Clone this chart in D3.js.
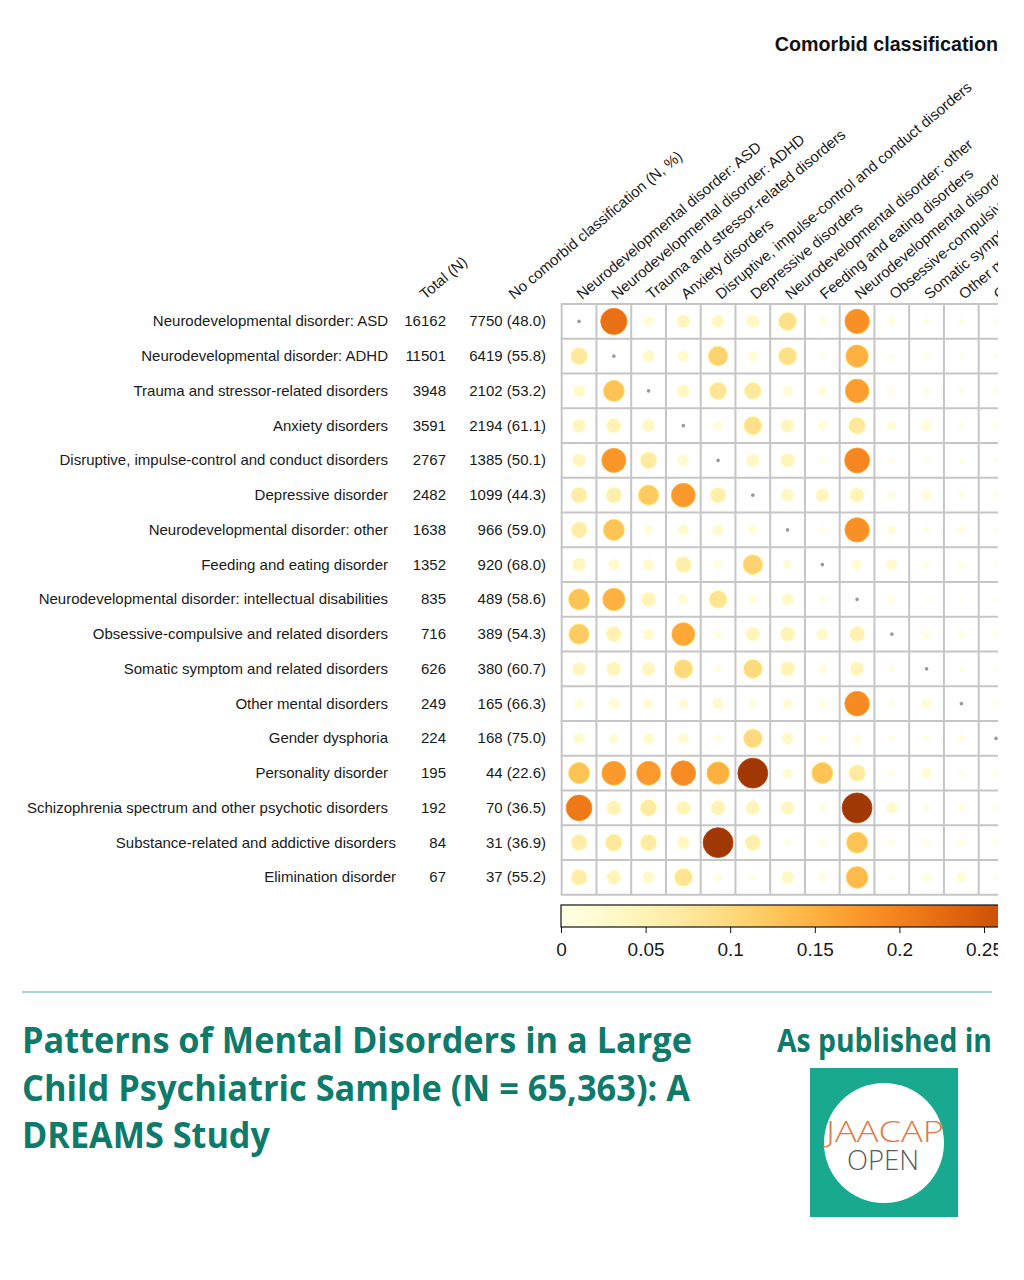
<!DOCTYPE html>
<html>
<head>
<script src="https://d3js.org/d3.v7.min.js"></script>
<style>
    html, body { margin: 0; padding: 0; background: #fff; }
    svg { display: block; }
</style>
</head>
<body>
<div id="chart"></div>
<script>
// diagnosis rows
var rows = [
    "Neurodevelopmental disorder: ASD",
    "Neurodevelopmental disorder: ADHD",
    "Trauma and stressor-related disorders",
    "Anxiety disorders",
    "Disruptive, impulse-control and conduct disorders",
    "Depressive disorder",
    "Neurodevelopmental disorder: other",
    "Feeding and eating disorder",
    "Neurodevelopmental disorder: intellectual disabilities",
    "Obsessive-compulsive and related disorders",
    "Somatic symptom and related disorders",
    "Other mental disorders",
    "Gender dysphoria",
    "Personality disorder",
    "Schizophrenia spectrum and other psychotic disorders",
    "Substance-related and addictive disorders",
    "Elimination disorder"
];
var totals = [16162, 11501, 3948, 3591, 2767, 2482, 1638, 1352, 835, 716, 626, 249, 224, 195, 192, 84, 67];
var noComorbidN = [7750, 6419, 2102, 2194, 1385, 1099, 966, 920, 489, 389, 380, 165, 168, 44, 70, 31, 37];
var noComorbidPct = [48.0, 55.8, 53.2, 61.1, 50.1, 44.3, 59.0, 68.0, 58.6, 54.3, 60.7, 66.3, 75.0, 22.6, 36.5, 36.9, 55.2];

// comorbid columns (only the ones visible in the cropped figure)
var comorbidCols = [
    "Neurodevelopmental disorder: ASD",
    "Neurodevelopmental disorder: ADHD",
    "Trauma and stressor-related disorders",
    "Anxiety disorders",
    "Disruptive, impulse-control and conduct disorders",
    "Depressive disorders",
    "Neurodevelopmental disorder: other",
    "Feeding and eating disorders",
    "Neurodevelopmental disorder: intellectual disabilities",
    "Obsessive-compulsive and related disorders",
    "Somatic symptom and related disorders",
    "Other mental disorders",
    "Gender dysphoria"
];

// proportion with comorbid classification, null = same diagnosis
var values = [
    [null, .22, .02, .04, .035, .035, .09, .01, .185, .01, .005, .004, .003],
    [.075, null, .03, .025, .11, .02, .09, .003, .15, .004, .003, .003, .002],
    [.03, .13, null, .035, .08, .075, .02, .015, .17, .006, .008, .004, .003],
    [.04, .05, .035, null, .015, .09, .04, .015, .075, .015, .02, .003, .003],
    [.04, .18, .07, .025, null, .035, .045, .006, .195, .004, .002, .004, .002],
    [.065, .06, .12, .175, .06, null, .035, .04, .05, .01, .02, .005, .003],
    [.065, .13, .015, .025, .025, .015, null, .006, .185, .015, .005, .01, .003],
    [.04, .025, .025, .06, .012, .11, .015, null, .02, .025, .006, .006, .002],
    [.13, .15, .05, .02, .085, .012, .03, .004, null, .008, .002, .002, .002],
    [.12, .055, .025, .16, .01, .045, .05, .03, .055, null, .01, .006, .003],
    [.04, .045, .04, .1, .008, .1, .05, .012, .045, .006, null, .004, .003],
    [.015, .02, .02, .018, .025, .01, .018, .01, .19, .005, .02, null, .004],
    [.025, .018, .025, .022, .01, .1, .03, .006, .01, .004, .005, .008, null],
    [.13, .175, .175, .19, .15, .30, .02, .13, .07, .005, .02, .004, .003],
    [.21, .05, .07, .045, .05, .045, .04, .008, .30, .025, .006, .008, .004],
    [.065, .075, .07, .035, .30, .06, .005, .008, .13, .005, .008, .008, .004],
    [.065, .045, .03, .085, .01, .004, .035, .01, .14, .004, .012, .02, .003]
];

var legendTicks = [0, 0.05, 0.1, 0.15, 0.2, 0.25];

var titleLines = [
    "Patterns of Mental Disorders in a Large",
    "Child Psychiatric Sample (N = 65,363): A",
    "DREAMS Study"
];

var W = 1024, H = 1280;
var cell = 34.75;
var gridX = 561.7, gridY = 304;
var labelFont = "'Liberation Sans', Arial, sans-serif";

var svg = d3.select("#chart").append("svg")
    .attr("width", W)
    .attr("height", H);

svg.append("defs").append("clipPath")
    .attr("id", "crop")
    .append("rect")
    .attr("x", 0).attr("y", 0).attr("width", 998).attr("height", 980);

var chart = svg.append("g").attr("clip-path", "url(#crop)");

var x = d3.scaleBand()
    .domain(comorbidCols)
    .range([gridX, gridX + cell * comorbidCols.length]);

var y = d3.scaleBand()
    .domain(rows)
    .range([gridY, gridY + cell * rows.length]);

var color = d3.scaleSequential(d3.interpolateYlOrBr).domain([0, 0.35]);
var radius = d3.scaleSqrt().domain([0, 0.35]).range([2, 16]);

// title
chart.append("text")
    .attr("x", 998).attr("y", 51)
    .attr("text-anchor", "end")
    .style("font-family", labelFont)
    .style("font-weight", "bold")
    .style("font-size", "19.7px")
    .attr("fill", "#111")
    .text("Comorbid classification");

// grid
var vlines = d3.range(comorbidCols.length + 1).map(function(i) { return gridX + i * x.step(); });
var hlines = rows.map(function(r) { return y(r); }).concat([y.range()[1]]);

chart.append("g").selectAll("line")
    .data(vlines).enter().append("line")
    .attr("x1", function(d) { return d; }).attr("x2", function(d) { return d; })
    .attr("y1", gridY).attr("y2", y.range()[1])
    .attr("stroke", "#c6c6c6").attr("stroke-width", 2);

chart.append("g").selectAll("line")
    .data(hlines).enter().append("line")
    .attr("y1", function(d) { return d; }).attr("y2", function(d) { return d; })
    .attr("x1", gridX - 1).attr("x2", x.range()[1])
    .attr("stroke", "#c6c6c6").attr("stroke-width", 2);

// cells
var cells = [];
rows.forEach(function(r, i) {
    comorbidCols.forEach(function(c, j) {
        cells.push({row: r, col: c, v: values[i][j]});
    });
});

chart.append("g").selectAll("circle")
    .data(cells.filter(function(d) { return d.v !== null; }))
    .enter().append("circle")
    .attr("cx", function(d) { return x(d.col) + x.bandwidth() / 2; })
    .attr("cy", function(d) { return y(d.row) + y.bandwidth() / 2; })
    .attr("r", function(d) { return radius(d.v); })
    .attr("fill", function(d) { return color(d.v); })
    .attr("stroke", function(d) { return d3.color(color(d.v)).brighter(0.4); })
    .attr("stroke-width", 0.8);

chart.append("g").selectAll("circle")
    .data(cells.filter(function(d) { return d.v === null; }))
    .enter().append("circle")
    .attr("cx", function(d) { return x(d.col) + x.bandwidth() / 2; })
    .attr("cy", function(d) { return y(d.row) + y.bandwidth() / 2; })
    .attr("r", 1.8)
    .attr("fill", "#9a9a9a");

// row labels and table columns
var shifted = ["Substance-related and addictive disorders", "Elimination disorder"];
var rowText = chart.append("g")
    .style("font-family", labelFont)
    .style("font-size", "15px")
    .attr("fill", "#1a1a1a");

rowText.selectAll(".rowlab")
    .data(rows).enter().append("text")
    .attr("class", "rowlab")
    .attr("text-anchor", "end")
    .attr("x", function(d) { return shifted.indexOf(d) >= 0 ? 396 : 388; })
    .attr("y", function(d) { return y(d) + y.bandwidth() / 2 + 5; })
    .text(function(d) { return d; });

rowText.selectAll(".total")
    .data(rows).enter().append("text")
    .attr("class", "total")
    .attr("text-anchor", "end")
    .attr("x", 446)
    .attr("y", function(d) { return y(d) + y.bandwidth() / 2 + 5; })
    .text(function(d, i) { return totals[i]; });

var pct = d3.format(".1f");
rowText.selectAll(".nocomo")
    .data(rows).enter().append("text")
    .attr("class", "nocomo")
    .attr("text-anchor", "end")
    .attr("x", 546)
    .attr("y", function(d) { return y(d) + y.bandwidth() / 2 + 5; })
    .text(function(d, i) { return noComorbidN[i] + " (" + pct(noComorbidPct[i]) + ")"; });

// rotated column headers
var headers = [
    {label: "Total (N)", x: 425},
    {label: "No comorbid classification (N, %)", x: 514}
].concat(comorbidCols.map(function(c) {
    return {label: c, x: x(c) + x.bandwidth() / 2 + 3};
}));

rowText.selectAll(".head")
    .data(headers).enter().append("text")
    .attr("class", "head")
    .attr("transform", function(d) { return "translate(" + d.x + ",300) rotate(-40)"; })
    .text(function(d) { return d.label; });

// colour bar
var legX = d3.scaleLinear().domain([0, 0.35]).range([561, 561 + 0.35 * 1692]);
var grad = svg.select("defs").append("linearGradient")
    .attr("id", "grad")
    .attr("x1", "0%").attr("x2", "100%");
grad.selectAll("stop")
    .data(d3.range(0, 1.0001, 0.05)).enter().append("stop")
    .attr("offset", function(d) { return (d * 100) + "%"; })
    .attr("stop-color", function(d) { return color(d * 0.35); });

chart.append("rect")
    .attr("x", legX(0)).attr("y", 905)
    .attr("width", legX(0.35) - legX(0)).attr("height", 22)
    .attr("fill", "url(#grad)")
    .attr("stroke", "#111").attr("stroke-width", 1.2);

var legAxis = chart.append("g")
    .attr("transform", "translate(0,927)")
    .call(d3.axisBottom(legX).tickValues(legendTicks).tickFormat(d3.format("")).tickSize(6).tickPadding(10));
legAxis.select(".domain").remove();
legAxis.selectAll("line").attr("stroke", "#111");
legAxis.selectAll("text")
    .style("font-family", labelFont)
    .style("font-size", "19px")
    .attr("fill", "#1a1a1a");

// footer
svg.append("line")
    .attr("x1", 22).attr("x2", 992)
    .attr("y1", 992).attr("y2", 992)
    .attr("stroke", "#5aae9f").attr("stroke-width", 1.2);

var teal = "#0e7a6a";
var titleWidths = [670, 668, 248];
svg.append("g").selectAll("text")
    .data(titleLines).enter().append("text")
    .attr("x", 22)
    .attr("y", function(d, i) { return 1053 + i * 47.5; })
    .attr("textLength", function(d, i) { return titleWidths[i]; })
    .attr("lengthAdjust", "spacingAndGlyphs")
    .style("font-family", "'Open Sans', sans-serif")
    .style("font-weight", 700)
    .style("font-size", "36px")
    .attr("fill", teal)
    .text(function(d) { return d; });

svg.append("text")
    .attr("x", 777).attr("y", 1052)
    .attr("textLength", 215)
    .attr("lengthAdjust", "spacingAndGlyphs")
    .style("font-family", "'Open Sans', sans-serif")
    .style("font-weight", 700)
    .style("font-size", "33px")
    .attr("fill", teal)
    .text("As published in");

var logo = svg.append("g");
logo.append("rect")
    .attr("x", 810).attr("y", 1068).attr("width", 148).attr("height", 149)
    .attr("fill", "#19a98f");
logo.append("circle")
    .attr("cx", 884).attr("cy", 1143).attr("r", 60)
    .attr("fill", "#fff");
logo.append("text")
    .attr("x", 826).attr("y", 1142)
    .attr("textLength", 118)
    .attr("lengthAdjust", "spacingAndGlyphs")
    .style("font-family", "'Open Sans', sans-serif")
    .style("font-weight", 300)
    .style("font-size", "30px")
    .attr("fill", "#e07a48")
    .text("JAACAP");
logo.append("text")
    .attr("x", 847).attr("y", 1170)
    .attr("textLength", 72)
    .attr("lengthAdjust", "spacingAndGlyphs")
    .style("font-family", "'Open Sans', sans-serif")
    .style("font-weight", 300)
    .style("font-size", "27px")
    .attr("fill", "#5a5a5a")
    .text("OPEN");
</script>
</body>
</html>
